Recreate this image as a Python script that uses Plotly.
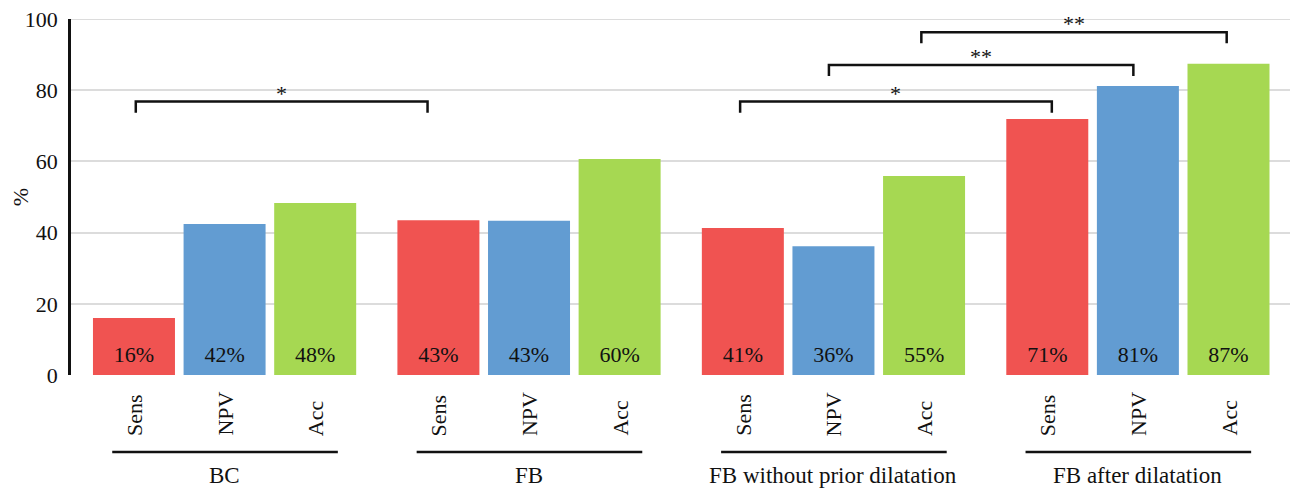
import plotly.graph_objects as go

# ---------------- data ----------------
groups = ["BC", "FB", "FB without prior dilatation", "FB after dilatation"]
metrics = ["Sens", "NPV", "Acc"]
sens = [16.0, 43.5, 41.3, 71.9]
npv = [42.4, 43.3, 36.2, 81.2]
acc = [48.3, 60.7, 55.9, 87.4]
sens_labels = ["16%", "43%", "41%", "71%"]
npv_labels = ["42%", "43%", "36%", "81%"]
acc_labels = ["48%", "60%", "55%", "87%"]
y_ticks = [0, 20, 40, 60, 80, 100]
# significance brackets: from group -> to group, on a given metric
sig_from_group = [0, 2, 2, 2]
sig_to_group = [1, 3, 3, 3]
sig_metric = [0, 0, 1, 2]
sig_level = [76.8, 76.8, 87.1, 96.3]
sig_label = ["*", "*", "**", "**"]

# ---------------- layout helpers ----------------
GROUP_STEP = 3.36
BAR_W = 0.905
colors = ["#F05351", "#629CD2", "#A6D852"]
GRID = "#DCDCDC"
FONT = "Liberation Serif, Times New Roman, serif"
FS = 22

series = [sens, npv, acc]
series_labels = [sens_labels, npv_labels, acc_labels]

# page has an 8px body margin; figure coordinates are page coordinates - 8
OFF = 8
W, H = 1298 - OFF, 491 - OFF
PLOT_TOP, PLOT_BOT = 19 - OFF, 375 - OFF


def xpos(g, m):
    return g * GROUP_STEP + m


def paper_y(px_page):
    return (PLOT_BOT - (px_page - OFF)) / (PLOT_BOT - PLOT_TOP)


fig = go.Figure()
for m, name in enumerate(metrics):
    xs = [xpos(g, m) for g in range(len(groups))]
    fig.add_trace(go.Bar(
        x=xs, y=series[m], width=BAR_W, name=name,
        marker=dict(color=colors[m], line=dict(width=0)),
        showlegend=False, hoverinfo="skip",
    ))
    fig.add_trace(go.Scatter(
        x=xs, y=[5.3] * len(xs), mode="text", text=series_labels[m],
        textposition="middle center",
        textfont=dict(family=FONT, size=FS, color="#111"),
        showlegend=False, hoverinfo="skip",
    ))

shapes = []
annotations = []

# top gridline (plotly omits the one at the range edge)
shapes.append(dict(type="line", xref="paper", yref="y", x0=0, x1=1,
                   y0=y_ticks[-1], y1=y_ticks[-1], layer="below",
                   line=dict(color=GRID, width=2)))

# category labels (rotated) and group underlines / labels
for g, gname in enumerate(groups):
    for m, mname in enumerate(metrics):
        annotations.append(dict(
            x=xpos(g, m), xref="x", y=paper_y(438), yref="paper",
            text=mname, textangle=-90, showarrow=False,
            xanchor="center", yanchor="bottom",
            font=dict(family=FONT, size=FS, color="#111"),
        ))
    x0 = xpos(g, 0) - 0.24
    x1 = xpos(g, 2) + 0.25
    shapes.append(dict(type="line", xref="x", yref="paper",
                       x0=x0, x1=x1, y0=paper_y(452), y1=paper_y(452),
                       line=dict(color="#111", width=2.5)))
    annotations.append(dict(
        x=(xpos(g, 0) + xpos(g, 2)) / 2, xref="x", y=paper_y(475), yref="paper",
        text=gname, showarrow=False, xanchor="center", yanchor="middle",
        font=dict(family=FONT, size=23, color="#111"),
    ))

# significance brackets
end_offsets = [(0.02, -0.12), (-0.03, 0.05), (-0.05, -0.05), (-0.03, -0.02)]
DROP = 3.1
for i in range(len(sig_label)):
    xa = xpos(sig_from_group[i], sig_metric[i]) + end_offsets[i][0]
    xb = xpos(sig_to_group[i], sig_metric[i]) + end_offsets[i][1]
    lv = sig_level[i]
    shapes.append(dict(type="path", xref="x", yref="y",
                       path=f"M {xa},{lv - DROP} L {xa},{lv} L {xb},{lv} L {xb},{lv - DROP}",
                       line=dict(color="#111", width=2.5)))
    annotations.append(dict(
        x=(xa + xb) / 2, xref="x", y=lv, yref="y", text=sig_label[i],
        showarrow=False, xanchor="center", yanchor="bottom", yshift=-6,
        font=dict(family=FONT, size=FS, color="#111"),
    ))

fig.update_layout(
    width=W, height=H,
    margin=dict(l=71 - OFF, r=2, t=PLOT_TOP, b=H - PLOT_BOT, pad=0,
                autoexpand=False),
    paper_bgcolor="white", plot_bgcolor="white",
    barmode="overlay",
    shapes=shapes, annotations=annotations,
    font=dict(family=FONT, size=FS, color="#111"),
)
fig.update_xaxes(range=[-0.695, 12.825], showticklabels=False, showgrid=False,
                 zeroline=False, showline=False, ticks="", automargin=False)
fig.update_yaxes(range=[0, 100], tickvals=y_ticks, showgrid=True,
                 gridcolor=GRID, gridwidth=2, zeroline=False,
                 showline=True, linecolor="#111", linewidth=2.5,
                 ticks="", ticklabelstandoff=6, ticklabeloverflow="allow",
                 automargin=False,
                 tickfont=dict(family=FONT, size=FS, color="#111"),
                 title=dict(text="%", font=dict(family=FONT, size=FS, color="#111"),
                            standoff=12))

fig.write_html("out.html")
